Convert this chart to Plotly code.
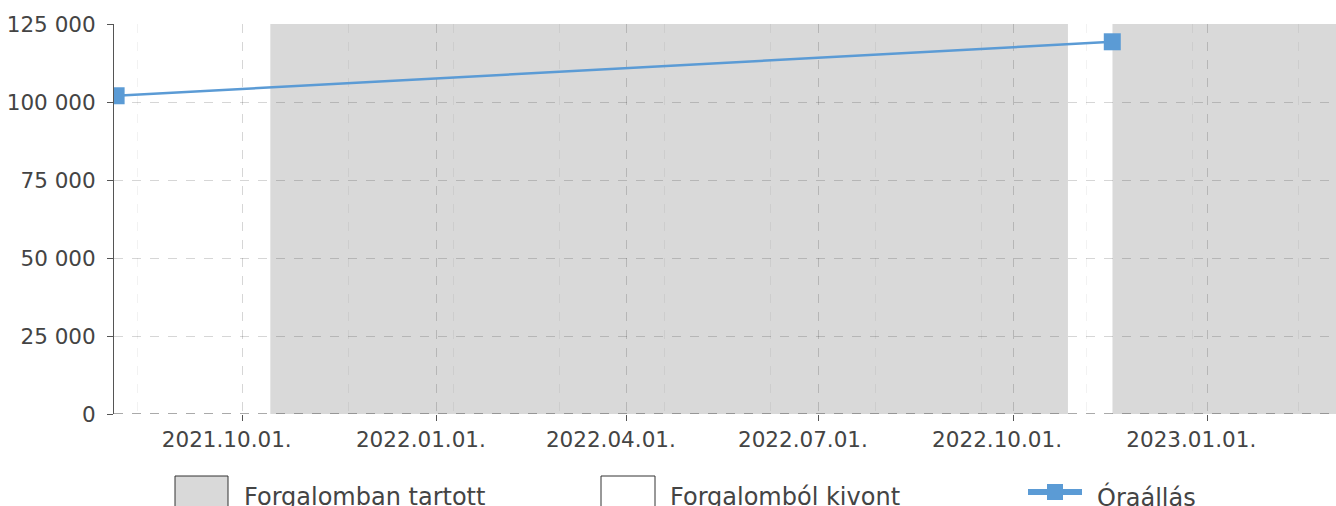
import plotly.graph_objects as go

# ---- data ----
reading_dates = ["2021-08-02", "2022-11-17"]
reading_values = [102000, 119300]

in_service_starts = ["2021-10-14", "2022-11-17"]
in_service_ends = ["2022-10-27", "2023-03-03"]

withdrawn_starts = ["2021-08-01", "2022-10-27"]
withdrawn_ends = ["2021-10-14", "2022-11-17"]

x_range = ["2021-08-01", "2023-03-03"]
y_max = 125000

legend_labels = ["Forgalomban tartott", "Forgalomból kivont", "Óraállás"]

BLUE = "#5b9bd5"
GRAY = "#d9d9d9"
TEXT = "#444444"
FONT = "DejaVu Sans"

fig = go.Figure()

fig.add_trace(go.Scatter(
    x=reading_dates, y=reading_values, mode="lines+markers",
    line=dict(color=BLUE, width=2.5),
    marker=dict(symbol="square", size=17, color=BLUE),
    showlegend=False, hoverinfo="x+y",
))

shapes = []
for s, e in zip(in_service_starts, in_service_ends):
    shapes.append(dict(type="rect", xref="x", yref="y", x0=s, x1=e, y0=0, y1=y_max,
                       fillcolor=GRAY, line=dict(width=0), layer="below"))
for s, e in zip(withdrawn_starts, withdrawn_ends):
    shapes.append(dict(type="rect", xref="x", yref="y", x0=s, x1=e, y0=0, y1=y_max,
                       fillcolor="white", line=dict(width=0), layer="below"))

# bottom axis dashed line
shapes.append(dict(type="line", xref="paper", yref="y", x0=0, x1=1, y0=0, y1=0,
                   line=dict(color="#555555", width=1, dash="dash"), layer="above"))

# ---- custom legend ----
def px_x(p):
    return (p - 114) / 1222.0

def px_y(p):
    return (414 - p) / 390.0

shapes.append(dict(type="rect", xref="paper", yref="paper",
                   x0=px_x(175), x1=px_x(228), y0=px_y(511), y1=px_y(476),
                   fillcolor=GRAY, line=dict(color="#333333", width=1)))
shapes.append(dict(type="rect", xref="paper", yref="paper",
                   x0=px_x(601), x1=px_x(655), y0=px_y(511), y1=px_y(476),
                   fillcolor="white", line=dict(color="#333333", width=1)))
shapes.append(dict(type="line", xref="paper", yref="paper",
                   x0=px_x(1028), x1=px_x(1082), y0=px_y(492), y1=px_y(492),
                   line=dict(color=BLUE, width=6)))
shapes.append(dict(type="rect", xref="paper", yref="paper",
                   x0=px_x(1047), x1=px_x(1063), y0=px_y(500), y1=px_y(484),
                   fillcolor=BLUE, line=dict(width=0)))

annotations = []
for lbl, xp in zip(legend_labels, [242, 668, 1095]):
    annotations.append(dict(text=lbl, xref="paper", yref="paper", x=px_x(xp), y=px_y(497),
                            xanchor="left", yanchor="middle", showarrow=False,
                            font=dict(family=FONT, size=24, color=TEXT)))

fig.update_layout(
    width=1336, height=506,
    margin=dict(l=114, r=0, t=24, b=92),
    paper_bgcolor="white", plot_bgcolor="white",
    separators=", ",
    font=dict(family=FONT, size=21.5, color=TEXT),
    shapes=shapes, annotations=annotations,
    showlegend=False,
)

fig.update_xaxes(
    type="date", range=x_range,
    tick0="2021-10-01", dtick="M3", tickformat="%Y.%m.%d.",
    showgrid=True, gridcolor="rgba(0,0,0,0.16)", griddash="dash", gridwidth=1,
    ticks="outside", ticklen=6, tickcolor="#555555",
    ticklabelshift=-16,
    showline=False, zeroline=False,
    tickfont=dict(family=FONT, size=21.5, color=TEXT),
    minor=dict(tick0="2021-10-01", dtick=50 * 86400000, showgrid=True,
               gridcolor="rgba(0,0,0,0.05)", griddash="dash", ticks=""),
)

fig.update_yaxes(
    range=[0, y_max], dtick=25000, tickformat=",d",
    showgrid=True, gridcolor="rgba(0,0,0,0.16)", griddash="dash", gridwidth=1,
    ticks="outside", ticklen=6, tickcolor="#555555",
    ticklabelstandoff=7,
    showline=True, linecolor="#555555", linewidth=1,
    zeroline=False,
    tickfont=dict(family=FONT, size=21.5, color=TEXT),
)

fig.write_html("out.html", config={"displayModeBar": False},
               post_script="document.body.style.margin='0';document.body.style.overflow='hidden';")
